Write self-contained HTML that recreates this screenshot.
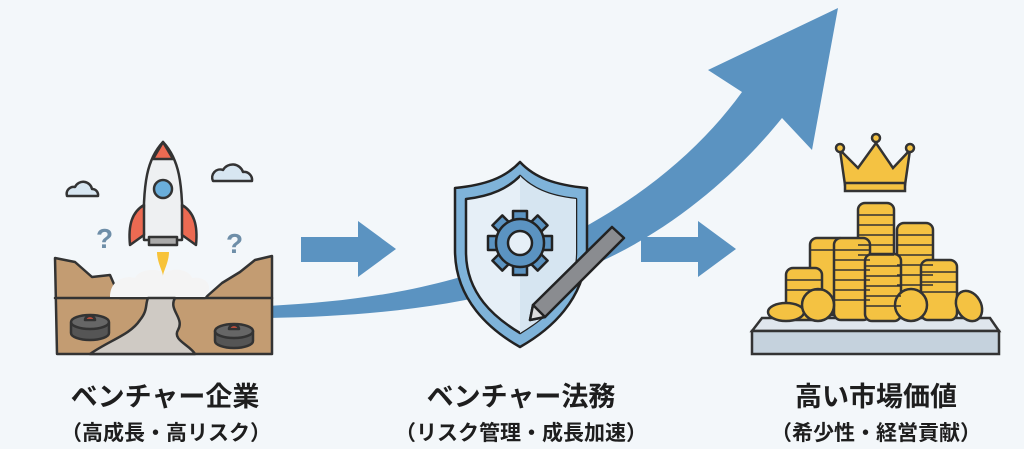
<!DOCTYPE html>
<html><head><meta charset="utf-8"><style>
html,body{margin:0;padding:0;width:1024px;height:449px;overflow:hidden;background:#f3f7fa}
svg{position:absolute;left:0;top:0}
.t{font-family:"Liberation Sans","Noto Sans CJK JP",sans-serif;font-weight:bold;fill:#1e1e1e;text-anchor:middle}
</style></head><body>
<svg width="1024" height="449" viewBox="0 0 1024 449">
<path d="M268,306 C380,300 460,285 560,240 C640,200 700,150 742,92 L708,70 L838,8 L812,150 L782,118 C740,170 680,225 600,262 C500,300 400,316 268,318 Z" fill="#5b93c1"/>
<path d="M301,237 L358,237 L358,221 L396,249 L358,277 L358,262 L301,262 Z" fill="#5b93c1"/>
<path d="M641,237 L698,237 L698,221 L736,249 L698,277 L698,262 L641,262 Z" fill="#5b93c1"/>

<g stroke="#333" stroke-width="2.5" stroke-linejoin="round" stroke-linecap="round">
<path d="M67,196 a7,7 0 0 1 8,-9 a9,9 0 0 1 17,2 a6,6 0 0 1 6,7 Z" fill="#d7e6f1"/>
<path d="M213,181 a8,8 0 0 1 10,-11 a11,11 0 0 1 20,2 a8,8 0 0 1 9,9 Z" fill="#d7e6f1"/>
<path d="M55,258 L75,262 L92,277 L110,275 L120,298 L205,298 L222,283 L240,272 L255,260 L272,256 L272,354 L57,354 Z" fill="#c39c72"/>
<line x1="55" y1="298" x2="272" y2="298"/>
<path d="M110,297 C110,280 125,275 135,278 C140,268 160,268 165,274 C172,266 190,270 192,278 C205,276 215,285 205,297 Z" fill="#f4f4f4" stroke="none"/>
<path d="M148,298 L175,298 C168,310 185,318 178,330 C172,340 190,345 195,354 L90,354 C110,340 130,335 140,320 C148,310 145,305 148,298 Z" fill="#cfcac4"/>
<g><path d="M71,323 v10 a19,7 0 0 0 38,0 v-10" fill="#555"/><ellipse cx="90" cy="322" rx="19" ry="7" fill="#666"/><path d="M85,320 a5,4 0 0 1 10,0Z" fill="#e0553f"/></g>
<g><path d="M215,331 v10 a19,7 0 0 0 38,0 v-10" fill="#555"/><ellipse cx="234" cy="331" rx="19" ry="7" fill="#666"/><path d="M229,329 a5,4 0 0 1 10,0Z" fill="#e0553f"/></g>
<path d="M163,142 C148,158 142,180 144,240 L182,240 C184,180 178,158 163,142 Z" fill="#eef0f2"/>
<path d="M153,159 L163,142 L173,159 Z" fill="#ec6a52"/>
<path d="M144,205 C132,212 128,225 130,245 L144,235 Z" fill="#ec6a52"/>
<path d="M182,205 C194,212 198,225 196,245 L182,235 Z" fill="#ec6a52"/>
<circle cx="163" cy="189" r="9" fill="#6aaedb"/>
<rect x="149" y="237" width="28" height="8" fill="#aaa"/>
<path d="M157,252 C157,262 163,272 163,276 C163,272 169,262 169,252 Z" fill="#f7c33a" stroke="none"/>
</g>
<text x="96" y="248" font-family="Liberation Sans" font-size="28" font-weight="bold" fill="#6e8ea8">?</text>
<text x="226" y="253" font-family="Liberation Sans" font-size="28" font-weight="bold" fill="#6e8ea8">?</text>

<g stroke="#222" stroke-width="2.5" stroke-linejoin="round">
<path d="M520,162 C505,178 485,185 455,188 L455,250 C455,300 490,330 520,347 C550,330 585,300 587,250 L587,188 C555,185 535,178 520,162 Z" fill="#7fb3d9"/>
<path d="M520,176 C508,188 492,196 466,199 L466,252 C466,294 495,318 520,333 C545,318 576,294 576,252 L576,199 C548,196 532,188 520,176 Z" fill="#e6eff7"/>
<path d="M520,176 C532,188 548,196 576,199 L576,252 C576,294 545,318 520,333 Z" fill="#d6e5f1" stroke="none"/>
<g fill="#5b93c1">
<rect x="513" y="211" width="14" height="12"/><rect x="513" y="263" width="14" height="12"/>
<rect x="488" y="236" width="12" height="14"/><rect x="540" y="236" width="12" height="14"/>
<rect x="513" y="211" width="14" height="12" transform="rotate(45 520 243)"/><rect x="513" y="211" width="14" height="12" transform="rotate(135 520 243)"/>
<rect x="513" y="211" width="14" height="12" transform="rotate(225 520 243)"/><rect x="513" y="211" width="14" height="12" transform="rotate(315 520 243)"/>
</g>
<circle cx="520" cy="243" r="24" fill="#5b93c1"/>
<circle cx="520" cy="243" r="12" fill="#e6eff7"/>
<path d="M612,227 L624,238 L545,317 L530,320 L533,305 Z" fill="#8a8c90"/>
<path d="M533,305 L530,320 L545,317 Z" fill="#ddd"/>
</g>

<g stroke="#333" stroke-width="2.5">
<path d="M752,331 L762,318 L990,318 L999,331 Z" fill="#dfe6ed"/>
<rect x="752" y="331" width="247" height="23" fill="#c5d2dd"/>
<path d="M845,185 L840,150 L858,168 L876,143 L893,168 L910,150 L905,185 Z" fill="#f4c242"/>
<rect x="845" y="183" width="60" height="8" fill="#f4c242"/>
<circle cx="840" cy="148" r="4" fill="#f4c242"/><circle cx="876" cy="138" r="4" fill="#f4c242"/><circle cx="910" cy="148" r="4" fill="#f4c242"/>
<g fill="#f4c242">
<rect x="858" y="203" width="36" height="72" rx="7"/>
<rect x="897" y="223" width="36" height="92" rx="7"/>
<rect x="810" y="238" width="36" height="77" rx="7"/>
<rect x="834" y="238" width="36" height="82" rx="7"/>
<rect x="865" y="254" width="36" height="67" rx="7"/>
<rect x="921" y="260" width="36" height="60" rx="7"/>
<rect x="786" y="268" width="36" height="52" rx="7"/>
<ellipse cx="786" cy="312" rx="18" ry="9"/>
<circle cx="818" cy="305" r="16"/>
<circle cx="911" cy="305" r="16"/>
<ellipse cx="969" cy="306" rx="12" ry="16" transform="rotate(-30 969 306)"/>
</g>
<g stroke-width="1.5" fill="none">
<path d="M858,215h36M858,225h36M858,235h36M858,245h36M858,255h36M897,235h36M897,245h36M897,255h36M897,265h36M897,275h36M897,285h36M810,250h36M834,250h36M834,260h36M834,270h36M834,280h36M834,290h36M834,300h36M865,266h36M865,276h36M865,286h36M865,296h36M865,306h36M921,272h36M921,282h36M921,292h36M786,280h36M786,290h36"/>
</g>
</g>

<text class="t" x="165" y="406" font-size="27">ベンチャー企業</text>
<text class="t" x="521" y="406" font-size="27">ベンチャー法務</text>
<text class="t" x="876" y="406" font-size="27">高い市場価値</text>
<text class="t" x="166" y="440" font-size="21">（高成長・高リスク）</text>
<text class="t" x="521" y="440" font-size="21">（リスク管理・成長加速）</text>
<text class="t" x="876" y="440" font-size="21">（希少性・経営貢献）</text>
</svg>
</body></html>
